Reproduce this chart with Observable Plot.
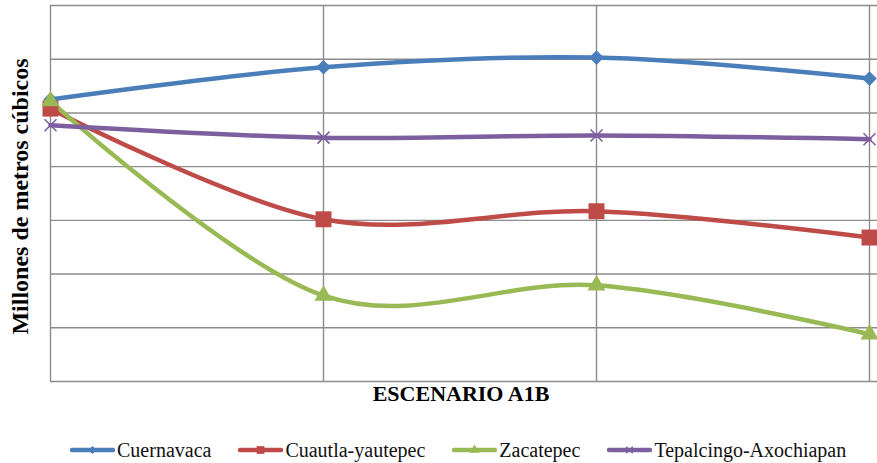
<!DOCTYPE html>
<html>
<head>
<meta charset="utf-8">
<script src="https://cdn.jsdelivr.net/npm/d3@7"></script>
<script src="https://cdn.jsdelivr.net/npm/@observablehq/plot@0.6"></script>
<style>
  body { margin: 0; background: #fff; width: 877px; height: 463px; overflow: hidden; }
  #legend { display: flex; align-items: center; height: 30px; margin-top: 3px; padding-left: 70px;
            font-family: "Liberation Serif", serif; font-size: 20px; color: #111; }
  .item { display: flex; align-items: center; margin-right: 27px; }
  .item svg { margin-right: 2px; }
</style>
</head>
<body>
<div id="chart"></div>
<div id="legend"></div>
<script>
const periods = ["P1", "P2", "P3", "P4"];
const seriesNames = ["Cuernavaca", "Cuautla-yautepec", "Zacatepec", "Tepalcingo-Axochiapan"];
const cuernavaca = [5.25, 5.85, 6.03, 5.64];
const cuautla = [5.08, 3.02, 3.17, 2.68];
const zacatepec = [5.22, 1.60, 1.79, 0.88];
const tepalcingo = [4.77, 4.54, 4.58, 4.51];
const gridValues = [0, 1, 2, 3, 4, 5, 6, 7];
const yLabel = "Millones de metros cúbicos";
const xLabel = "ESCENARIO A1B";

const colors = ["#4A7EBB", "#BE4B48", "#98B954", "#7D5FA0"];
const symbols = ["diamond2", "square", "triangle", "times"];
const radii = [6.6, 9, 6.7, 5.5];
const allValues = [cuernavaca, cuautla, zacatepec, tepalcingo];

const data = [];
allValues.forEach((vals, s) => vals.forEach((v, i) => data.push({serie: seriesNames[s], period: periods[i], value: v})));

const lineMarks = seriesNames.map((name, s) =>
  Plot.line(data.filter(d => d.serie === name), {x: "period", y: "value", stroke: colors[s], strokeWidth: 4.5, curve: "cardinal"})
);
const dotMarks = seriesNames.map((name, s) => {
  const isStroke = symbols[s] === "times";
  return Plot.dot(data.filter(d => d.serie === name), {
    x: "period", y: "value", symbol: () => symbols[s], r: radii[s],
    fill: isStroke ? "none" : colors[s], stroke: isStroke ? colors[s] : "none", strokeWidth: isStroke ? 1.6 : 0
  });
});

const chart = Plot.plot({
  width: 877,
  height: 432,
  marginLeft: 50,
  marginRight: 0,
  marginTop: 5,
  marginBottom: 51,
  style: {fontFamily: "Liberation Serif, serif", background: "#fff"},
  x: {type: "point", domain: periods, range: [50, 869], padding: 0, axis: null},
  y: {domain: [0, 7], axis: null},
  symbol: {type: "identity"},
  marks: [
    Plot.ruleY(gridValues, {stroke: "#8c8c8c", strokeWidth: 1.4}),
    Plot.ruleX(periods, {stroke: "#8c8c8c", strokeWidth: 1.4}),
    ...lineMarks,
    ...dotMarks,
    Plot.text([yLabel], {frameAnchor: "left", textAnchor: "middle", rotate: -90, dx: -30, dy: 3, fontSize: 24, fontWeight: "bold", fill: "#000"}),
    Plot.text([xLabel], {frameAnchor: "bottom", textAnchor: "middle", dx: -3, dy: 19, fontSize: 22, fontWeight: "bold", fill: "#000"})
  ]
});
document.getElementById("chart").appendChild(chart);

// legend
const legend = d3.select("#legend");
const legSyms = [d3.symbolDiamond2, d3.symbolSquare, d3.symbolTriangle, d3.symbolTimes];
const legSizes = [40, 60, 40, 30];
seriesNames.forEach((name, s) => {
  const item = legend.append("div").attr("class", "item");
  const svg = item.append("svg").attr("width", 45).attr("height", 16);
  svg.append("line").attr("x1", 2).attr("x2", 43).attr("y1", 8).attr("y2", 8)
    .attr("stroke", colors[s]).attr("stroke-width", 4.5).attr("stroke-linecap", "round");
  const p = svg.append("path").attr("d", d3.symbol(legSyms[s], legSizes[s])()).attr("transform", "translate(22.5,8)");
  if (s === 3) p.attr("fill", "none").attr("stroke", colors[s]).attr("stroke-width", 1.4);
  else p.attr("fill", colors[s]);
  item.append("span").text(name);
});
</script>
</body>
</html>
